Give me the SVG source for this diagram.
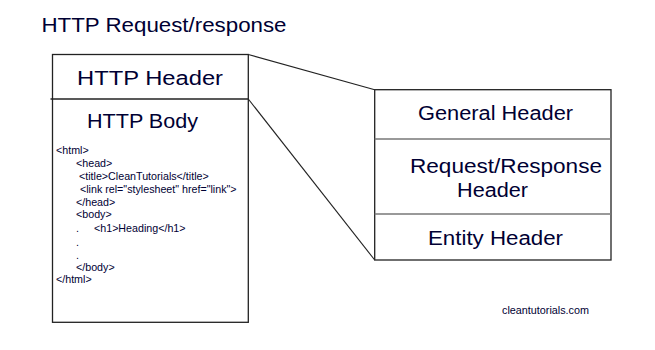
<svg xmlns="http://www.w3.org/2000/svg" width="655" height="350" viewBox="0 0 655 350">
<style>
.t{font-family:"Liberation Sans",Arial,sans-serif;fill:#000033}
.big{font-size:20px}
.mid{font-size:19.5px}
.code{font-size:10.7px}
.box{fill:#fff;stroke:#222;stroke-width:1.3}
.div{stroke:#222;stroke-width:1.3}
.div2{stroke:#777;stroke-width:1.3}
.con{stroke:#222;stroke-width:1.1;fill:none}
</style>
<rect width="655" height="350" fill="#fff"/>
<text id="title" class="t big" x="41.5" y="32" textLength="245" lengthAdjust="spacingAndGlyphs">HTTP Request/response</text>
<g id="connectors">
<line class="con" x1="248.3" y1="54.5" x2="374.7" y2="89.7"/>
<line class="con" x1="248.3" y1="99" x2="374.7" y2="260"/>
</g>
<g id="http-message">
<rect class="box" x="52.5" y="54.5" width="195.8" height="267.8"/>
<line class="div" x1="50.5" y1="99" x2="248.3" y2="99"/>
<g id="http-header">
<text class="t big" x="77" y="85" textLength="146" lengthAdjust="spacingAndGlyphs">HTTP Header</text>
</g>
<g id="http-body">
<text class="t big" x="87" y="128" textLength="111" lengthAdjust="spacingAndGlyphs">HTTP Body</text>
<text class="t code" x="56" y="154">&lt;html&gt;</text>
<text class="t code" x="76" y="167">&lt;head&gt;</text>
<text class="t code" x="79" y="180">&lt;title&gt;CleanTutorials&lt;/title&gt;</text>
<text class="t code" x="80" y="193">&lt;link rel="stylesheet" href="link"&gt;</text>
<text class="t code" x="76" y="206">&lt;/head&gt;</text>
<text class="t code" x="76" y="218">&lt;body&gt;</text>
<text class="t code" x="76" y="232">.</text>
<text class="t code" x="94" y="232">&lt;h1&gt;Heading&lt;/h1&gt;</text>
<text class="t code" x="76" y="246">.</text>
<text class="t code" x="76" y="259">.</text>
<text class="t code" x="76" y="271">&lt;/body&gt;</text>
<text class="t code" x="56" y="283">&lt;/html&gt;</text>
</g>
</g>
<g id="header-detail">
<rect class="box" x="374.7" y="89.7" width="236.3" height="170.3"/>
<line class="div2" x1="374.7" y1="139" x2="611" y2="139"/>
<line class="div2" x1="374.7" y1="214" x2="611" y2="214"/>
<g id="general-header">
<text class="t mid" x="418" y="119.5" textLength="155" lengthAdjust="spacingAndGlyphs">General Header</text>
</g>
<g id="request-response-header">
<text class="t mid" x="410" y="173" textLength="192" lengthAdjust="spacingAndGlyphs">Request/Response</text>
<text class="t mid" x="457" y="197" textLength="71" lengthAdjust="spacingAndGlyphs">Header</text>
</g>
<g id="entity-header">
<text class="t mid" x="428" y="245" textLength="135" lengthAdjust="spacingAndGlyphs">Entity Header</text>
</g>
</g>
<text id="credit" class="t" x="502" y="314" font-size="10.8">cleantutorials.com</text>
</svg>
